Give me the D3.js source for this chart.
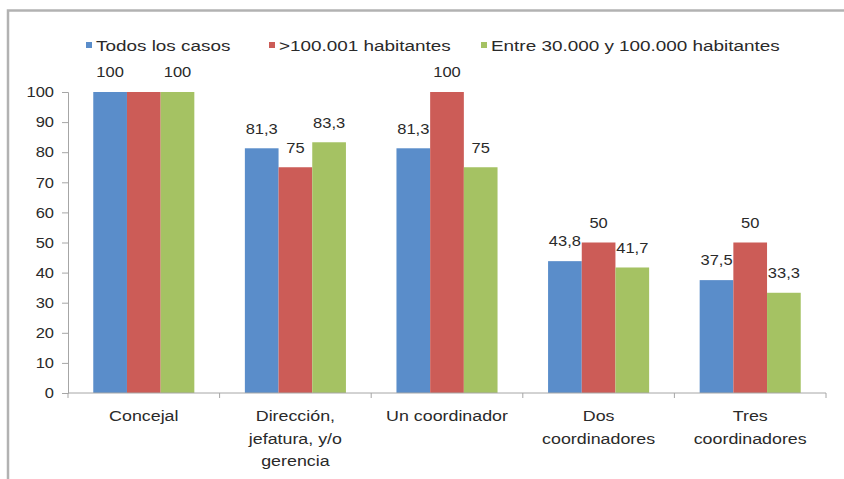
<!DOCTYPE html>
<html>
<head>
<meta charset="utf-8">
<script src="https://cdn.jsdelivr.net/npm/d3@7"></script>
<style>
  html, body { margin: 0; padding: 0; background: #fff; }
  svg { display: block; }
  text { font-family: "Liberation Sans", Arial, sans-serif; fill: #2a2a2a; }
</style>
</head>
<body>
<svg id="chart" width="844" height="479"></svg>
<script>
// Categories (each entry is the list of lines of its axis label)
const categories = [
  ["Concejal"],
  ["Dirección,", "jefatura, y/o", "gerencia"],
  ["Un coordinador"],
  ["Dos", "coordinadores"],
  ["Tres", "coordinadores"]
];
const seriesNames = ["Todos los casos", ">100.001 habitantes", "Entre 30.000 y 100.000 habitantes"];
const todosLosCasos = [100, 81.3, 81.3, 43.8, 37.5];
const mas100001 = [100, 75, 100, 50, 50];
const entre30y100 = [100, 83.3, 75, 41.7, 33.3];
// Value labels shown per series (the Concejal label of the second series is not drawn)
const labelShown = [
  [true, true, true, true, true],
  [false, true, true, true, true],
  [true, true, true, true, true]
];
const yTicks = [0, 10, 20, 30, 40, 50, 60, 70, 80, 90, 100];
const colors = ["#5a8dca", "#cc5c57", "#a5c263"];

const series = [todosLosCasos, mas100001, entre30y100];
const fmt = v => String(v).replace(".", ",");
const svg = d3.select("#chart");

// text drawn with a slight horizontal stretch
function label(g, x, y, txt, anchor, size = 15, sx = 1.1) {
  return g.append("text")
    .attr("transform", `translate(${x},${y}) scale(${sx},1)`)
    .attr("text-anchor", anchor)
    .attr("dy", "0.35em")
    .style("font-size", size + "px")
    .text(txt);
}

// outer frame
svg.append("path")
  .attr("d", "M8,479 L8,10.5 L844,10.5")
  .attr("fill", "none")
  .attr("stroke", "#b2b2b2")
  .attr("stroke-width", 2.5);

const plotLeft = 68, plotRight = 826, plotTop = 92, plotBottom = 393;
const x0 = d3.scaleBand().domain(d3.range(categories.length)).range([plotLeft, plotRight]).paddingInner(0).paddingOuter(0);
const groupW = x0.bandwidth() * 3 / 4.5;
const x1 = d3.scaleBand().domain(d3.range(series.length)).range([0, groupW]);
const y = d3.scaleLinear().domain([0, 100]).range([plotBottom, plotTop]);

// bars
series.forEach((vals, s) => {
  svg.append("g").selectAll("rect").data(vals).join("rect")
    .attr("x", (d, i) => x0(i) + (x0.bandwidth() - groupW) / 2 + x1(s))
    .attr("y", d => y(d))
    .attr("width", x1.bandwidth())
    .attr("height", d => y(0) - y(d))
    .attr("fill", colors[s]);
});

// value labels
const lg = svg.append("g");
series.forEach((vals, s) => {
  vals.forEach((v, i) => {
    if (!labelShown[s][i]) return;
    const cx = x0(i) + (x0.bandwidth() - groupW) / 2 + x1(s) + x1.bandwidth() / 2;
    label(lg, cx, y(v) - 20, fmt(v), "middle");
  });
});

// y axis
const yAxis = d3.axisLeft(y).tickValues(yTicks).tickSize(6).tickPadding(8).tickFormat(d3.format("d"));
const gy = svg.append("g").attr("transform", `translate(${plotLeft},0)`).call(yAxis);
gy.select(".domain").attr("stroke", "#a6a6a6");
gy.selectAll(".tick line").attr("stroke", "#a6a6a6");
gy.selectAll(".tick text").remove();
yTicks.forEach(t => label(svg, plotLeft - 14, y(t), t, "end"));

// x axis
svg.append("line").attr("x1", plotLeft).attr("x2", plotRight).attr("y1", plotBottom).attr("y2", plotBottom)
  .attr("stroke", "#a6a6a6");
const bounds = d3.range(categories.length + 1).map(i => plotLeft + i * x0.bandwidth());
svg.append("g").selectAll("line").data(bounds).join("line")
  .attr("x1", d => d).attr("x2", d => d)
  .attr("y1", plotBottom).attr("y2", plotBottom + 5)
  .attr("stroke", "#a6a6a6");

// category labels
categories.forEach((lines, i) => {
  const cx = x0(i) + x0.bandwidth() / 2;
  lines.forEach((ln, k) => label(svg, cx, 416 + k * 22.5, ln, "middle", 15, 1.19));
});

// legend
const legendX = [86, 269, 481];
seriesNames.forEach((name, s) => {
  svg.append("rect").attr("x", legendX[s]).attr("y", 42).attr("width", 6).attr("height", 6).attr("fill", colors[s]);
  label(svg, legendX[s] + 10, 46, name, "start", 15.5, 1.22);
});
</script>
</body>
</html>
